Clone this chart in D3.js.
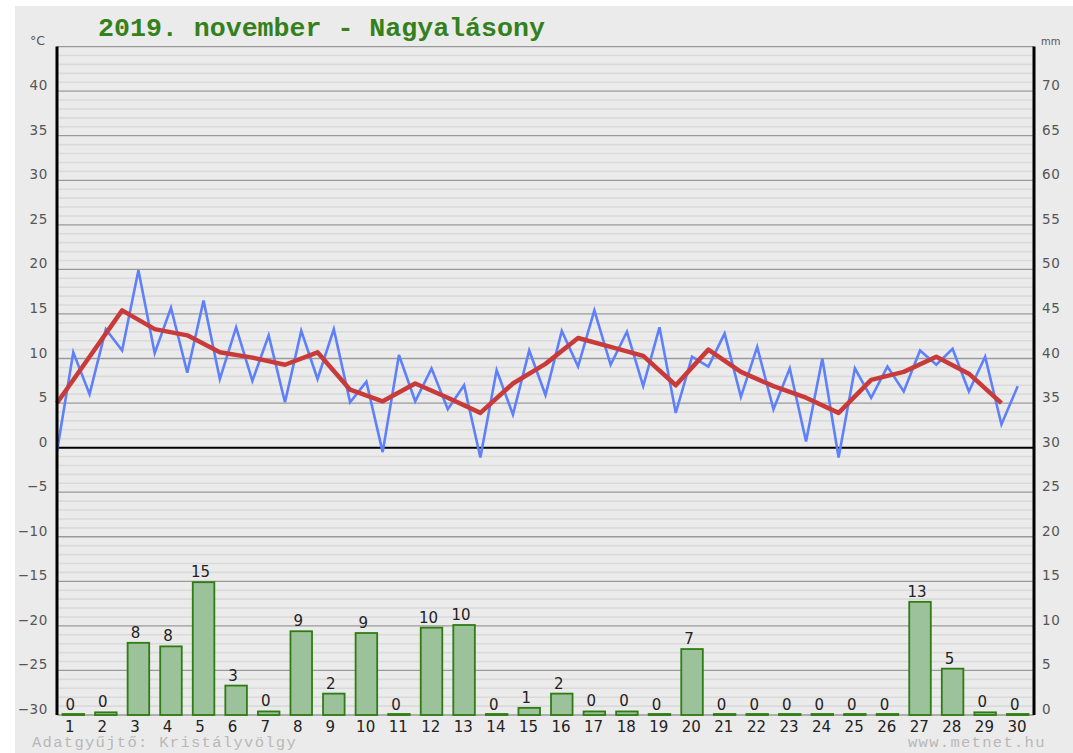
<!DOCTYPE html>
<html>
<head>
<meta charset="utf-8">
<script src="https://cdn.jsdelivr.net/npm/d3@7"></script>
<style>
  body { margin: 0; background: #fff; }
  svg { display: block; }
</style>
</head>
<body>
<svg id="chart" width="1073" height="753"></svg>
<script>
// day labels on the x axis
let days = d3.range(1, 31);
// temperature, two readings per day (°C)
let tempPoints = [
  -0.4, 10.7, 6.0, 13.3, 10.9, 19.9, 10.6, 15.7, 8.4, 16.5,
  7.7, 13.5, 7.5, 12.6, 5.1, 13.1, 7.7, 13.3, 5.1, 7.4,
  -0.5, 10.4, 5.2, 8.9, 4.3, 7.0, -1.1, 8.7, 3.7, 10.9,
  5.9, 13.1, 9.1, 15.4, 9.3, 13.0, 6.9, 13.5, 3.9, 10.2,
  9.1, 12.8, 5.7, 11.3, 4.3, 8.9, 0.7, 10.0, -1.1, 8.9,
  5.6, 9.1, 6.3, 10.9, 9.3, 11.1, 6.3, 10.2, 2.6, 6.9
];
// daily mean temperature (°C)
let dailyMean = [
  5.0, 10.2, 15.4, 13.3, 12.6, 10.7, 10.1, 9.3, 10.7, 6.5,
  5.2, 7.2, 5.6, 3.9, 7.2, 9.4, 12.3, 11.3, 10.3, 7.0,
  11.0, 8.5, 6.9, 5.6, 3.9, 7.6, 8.5, 10.2, 8.3, 5.0
];
// daily precipitation (mm)
let precip = [
  0, 0.3, 8.1, 7.7, 14.9, 3.3, 0.4, 9.4, 2.4, 9.2,
  0, 9.8, 10.1, 0, 0.8, 2.4, 0.4, 0.4, 0, 7.4,
  0, 0, 0, 0, 0, 0, 12.7, 5.2, 0.3, 0
];
let tempTicks = [-30, -25, -20, -15, -10, -5, 0, 5, 10, 15, 20, 25, 30, 35, 40];
let mmTicks = [0, 5, 10, 15, 20, 25, 30, 35, 40, 45, 50, 55, 60, 65, 70];

let svg = d3.select("#chart");
let plotLeft = 57, plotRight = 1034, plotTop = 46.6, plotBottom = 715;

let x = d3.scaleLinear().domain([0, 30]).range([plotLeft, plotRight]);
let y = d3.scaleLinear().domain([-30, 45]).range([plotBottom, plotTop]);
let yMm = d3.scaleLinear().domain([0, 75]).range([plotBottom, plotTop]);

// background panel
svg.append("rect").attr("x", 15).attr("y", 6).attr("width", 1058).attr("height", 747)
  .attr("fill", "#ebebeb");

// minor grid lines every degree
let grid = svg.append("g");
for(let t = -29; t <= 44; t++) {
  if(t % 5 == 0) continue;
  grid.append("line").attr("x1", plotLeft).attr("x2", plotRight)
    .attr("y1", y(t)).attr("y2", y(t))
    .attr("stroke", "#dadada").attr("stroke-width", 1.6);
}
// major grid lines
for(let t of tempTicks.concat([45])) {
  grid.append("line").attr("x1", plotLeft).attr("x2", plotRight)
    .attr("y1", y(t)).attr("y2", y(t))
    .attr("stroke", t == 0 ? "#000" : "#9a9a9a")
    .attr("stroke-width", t == 0 ? 2 : 1.3);
}

// precipitation bars
let band = x(1) - x(0);
svg.append("g").selectAll("rect").data(precip).enter().append("rect")
  .attr("x", (d, i) => x(i) + 5.5)
  .attr("width", band - 11)
  .attr("y", d => Math.min(yMm(d), plotBottom - 1))
  .attr("height", d => Math.max(plotBottom - yMm(d), 1))
  .attr("fill", "#9bc29b")
  .attr("stroke", "#2f7d12")
  .attr("stroke-width", 1.8);

// bar value labels
svg.append("g").selectAll("text").data(precip).enter().append("text")
  .attr("x", (d, i) => x(i) + band / 2 - 3)
  .attr("y", d => yMm(d) - 5)
  .attr("text-anchor", "middle")
  .attr("font-family", "DejaVu Sans, Verdana, sans-serif")
  .attr("font-size", 15)
  .attr("fill", "#222")
  .text(d => Math.round(d));

// temperature lines
let tempLine = d3.line().x((d, i) => x(i / 2)).y(d => y(d));
svg.append("path").datum(tempPoints)
  .attr("d", tempLine)
  .attr("fill", "none")
  .attr("stroke", "#5f80fb")
  .attr("stroke-width", 2.6)
  .attr("stroke-linejoin", "miter");

let meanLine = d3.line().x((d, i) => x(i)).y(d => y(d));
svg.append("path").datum(dailyMean)
  .attr("d", meanLine)
  .attr("fill", "none")
  .attr("stroke", "#c93b3b")
  .attr("stroke-width", 4.5)
  .attr("stroke-linejoin", "round");

// axis lines
svg.append("line").attr("x1", plotLeft).attr("x2", plotLeft).attr("y1", plotTop).attr("y2", plotBottom)
  .attr("stroke", "#000").attr("stroke-width", 3);
svg.append("line").attr("x1", plotRight).attr("x2", plotRight).attr("y1", plotTop).attr("y2", plotBottom)
  .attr("stroke", "#000").attr("stroke-width", 3);

// left tick labels
svg.append("g").selectAll("text").data(tempTicks).enter().append("text")
  .attr("x", 48).attr("y", d => y(d) - 1)
  .attr("text-anchor", "end")
  .attr("font-family", "DejaVu Sans, Verdana, sans-serif")
  .attr("font-size", 13.5).attr("letter-spacing", 0.6)
  .attr("fill", "#555")
  .text(d => d < 0 ? "−" + Math.abs(d) : d);

// right tick labels
svg.append("g").selectAll("text").data(mmTicks).enter().append("text")
  .attr("x", 1042).attr("y", d => yMm(d) - 1)
  .attr("font-family", "DejaVu Sans, Verdana, sans-serif")
  .attr("font-size", 13.5).attr("letter-spacing", 0.6)
  .attr("fill", "#555")
  .text(d => d);

// day labels
svg.append("g").selectAll("text").data(days).enter().append("text")
  .attr("x", (d, i) => x(i) + (d < 10 ? 8 : 6))
  .attr("y", 732)
  .attr("font-family", "DejaVu Sans, Verdana, sans-serif")
  .attr("font-size", 15)
  .attr("fill", "#222")
  .text(d => d);

// units
svg.append("text").attr("x", 30).attr("y", 45)
  .attr("font-family", "DejaVu Sans, Verdana, sans-serif")
  .attr("font-size", 12.5).attr("fill", "#555").text("°C");
svg.append("text").attr("x", 1041).attr("y", 45)
  .attr("font-family", "DejaVu Sans, Verdana, sans-serif")
  .attr("font-size", 10).attr("fill", "#555").text("mm");

// title
svg.append("text").attr("x", 98).attr("y", 36)
  .attr("font-family", "Liberation Mono, Courier New, monospace")
  .attr("font-size", 26.6).attr("font-weight", "bold")
  .attr("fill", "#34801c")
  .text("2019. november - Nagyalásony");

// footer credits
svg.append("text").attr("x", 32).attr("y", 747)
  .attr("font-family", "Liberation Mono, Courier New, monospace")
  .attr("font-size", 15.5).attr("letter-spacing", 1.3)
  .attr("fill", "#b8b8b8")
  .text("Adatgyűjtő: Kristályvölgy");
svg.append("text").attr("x", 908).attr("y", 747)
  .attr("font-family", "Liberation Mono, Courier New, monospace")
  .attr("font-size", 15.5).attr("letter-spacing", 1.3)
  .attr("fill", "#b8b8b8")
  .text("www.metnet.hu");
</script>
</body>
</html>
